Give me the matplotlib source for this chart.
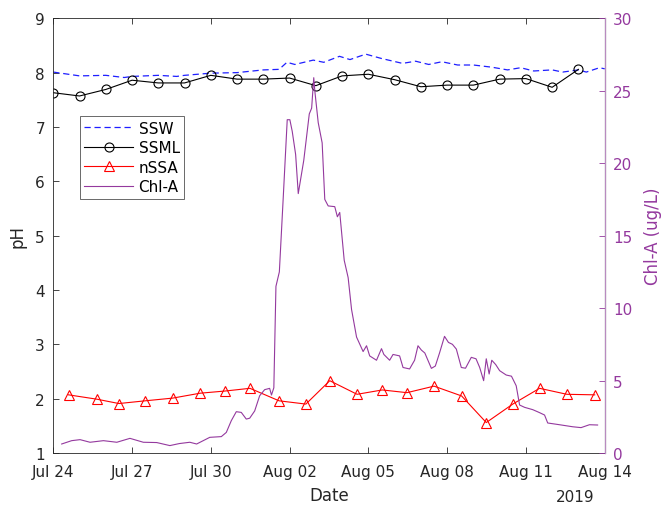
import numpy as np
import pandas as pd
import matplotlib
matplotlib.use("Agg")
import matplotlib.pyplot as plt
import matplotlib.dates as mdates

start = pd.Timestamp("2019-07-24")

# SSML (daily, circles)
ssml_day = np.arange(0, 21)
ssml_ph = [7.63, 7.57, 7.69, 7.86, 7.81, 7.81, 7.95, 7.88, 7.88, 7.90, 7.76,
           7.94, 7.97, 7.87, 7.74, 7.77, 7.77, 7.88, 7.89, 7.73, 8.06]

# nSSA (triangles)
nssa_day = [0.58, 1.66, 2.50, 3.50, 4.55, 5.59, 6.54, 7.49, 8.60, 9.62, 10.53,
            11.57, 12.53, 13.47, 14.50, 15.55, 16.49, 17.50, 18.52, 19.56, 20.62]
nssa_ph = [2.07, 1.99, 1.91, 1.96, 2.01, 2.10, 2.14, 2.19, 1.96, 1.90, 2.33,
           2.08, 2.16, 2.11, 2.23, 2.05, 1.56, 1.90, 2.19, 2.08, 2.07]

# SSW (dashed)
ssw_day = [0.0, 1.0, 2.0, 2.7, 3.0, 4.0, 4.7, 5.0, 6.0, 7.0, 8.0, 8.6, 8.9, 9.2,
           9.9, 10.3, 10.9, 11.3, 11.9, 12.5, 13.3, 13.8, 14.3, 14.8, 15.4, 16.0,
           16.7, 17.3, 17.8, 18.3, 19.0, 19.4, 20.0, 20.3, 20.8, 21.0]
ssw_ph = [8.01, 7.94, 7.95, 7.91, 7.93, 7.95, 7.93, 7.95, 7.99, 8.00, 8.05, 8.06,
          8.19, 8.15, 8.23, 8.19, 8.30, 8.24, 8.34, 8.26, 8.17, 8.21, 8.15, 8.20,
          8.14, 8.14, 8.10, 8.05, 8.09, 8.03, 8.05, 8.01, 8.05, 8.01, 8.09, 8.07]

# Chl-A (ug/L, right axis)
chl_day = [0.32, 0.70, 1.02, 1.40, 1.91, 2.42, 2.92, 3.43, 3.94, 4.44, 4.80, 5.20,
           5.46, 5.96, 6.40, 6.59, 6.78, 6.97, 7.16, 7.35, 7.48, 7.67, 7.86, 8.05,
           8.24, 8.31, 8.40, 8.48, 8.61, 8.76, 8.91, 9.01, 9.10, 9.23, 9.33, 9.54,
           9.75, 9.84, 9.92, 9.96, 10.09, 10.24, 10.34, 10.47, 10.72, 10.82, 10.91,
           11.08, 11.23, 11.36, 11.55, 11.80, 11.93, 12.05, 12.31, 12.50, 12.59,
           12.81, 12.94, 13.19, 13.32, 13.57, 13.76, 13.89, 14.02, 14.15, 14.40,
           14.55, 14.71, 14.90, 15.05, 15.20, 15.35, 15.54, 15.70, 15.92, 16.10,
           16.24, 16.39, 16.49, 16.60, 16.70, 16.85, 17.00, 17.25, 17.45, 17.63,
           17.76, 17.95, 18.26, 18.50, 18.71, 18.83, 19.28, 19.78, 20.10, 20.42,
           20.73]
chl_val = [0.62, 0.85, 0.92, 0.74, 0.85, 0.74, 1.01, 0.74, 0.72, 0.51, 0.65, 0.74,
           0.62, 1.08, 1.13, 1.42, 2.23, 2.85, 2.80, 2.34, 2.40, 2.90, 3.95, 4.37,
           4.46, 4.00, 4.50, 11.5, 12.5, 17.7, 23.0, 23.0, 22.2, 20.6, 17.9, 20.2,
           23.4, 23.8, 25.9, 25.0, 22.8, 21.4, 17.5, 17.05, 17.0, 16.3, 16.6,
           13.3, 12.1, 9.9, 8.0, 7.0, 7.4, 6.7, 6.4, 7.2, 6.8,
           6.4, 6.8, 6.7, 5.9, 5.8, 6.4, 7.4, 7.1, 6.9, 5.84,
           6.0, 6.9, 8.05, 7.63, 7.5, 7.17, 5.9, 5.85, 6.6, 6.5,
           5.9, 4.99, 6.5, 5.45, 6.4, 6.1, 5.68, 5.38, 5.3, 4.64,
           3.31, 3.15, 2.99, 2.8, 2.62, 2.07, 1.95, 1.81, 1.75, 1.95,
           1.93]

tick_days = np.arange(0, 22, 3)

purple = "#94399e"
axis_gray = "#262626"


def to_dates(days):
    return start + pd.to_timedelta(np.asarray(days, dtype=float), unit="D")


plt.rcParams["font.family"] = ["DejaVu Sans"]

fig = plt.figure(figsize=(6.61, 5.06), dpi=100)
ax = fig.add_axes([0.0806, 0.1028, 0.8342, 0.8591])

l_ssw, = ax.plot(to_dates(ssw_day), ssw_ph, color="#1f1fff", lw=0.9,
                 dashes=(5, 3), label="SSW")
l_ssml, = ax.plot(to_dates(ssml_day), ssml_ph, color="black", lw=0.8,
                  marker="o", markersize=6.5, markerfacecolor="none",
                  markeredgewidth=0.8, label="SSML")
l_nssa, = ax.plot(to_dates(nssa_day), nssa_ph, color="red", lw=0.8,
                  marker="^", markersize=7, markerfacecolor="none",
                  markeredgewidth=0.8, label="nSSA")

ax.set_ylim(1, 9)
ax.set_xlim(start, start + pd.Timedelta(days=21))
ax.set_yticks(np.arange(1, 10))
ax.set_xticks(to_dates(tick_days))
ax.xaxis.set_major_formatter(mdates.DateFormatter("%b %d"))
ax.tick_params(direction="in", length=4, width=0.6, top=True, right=False,
               labelsize=11, colors=axis_gray)
ax.tick_params(axis="x", pad=8)
ax.tick_params(axis="y", pad=6)
for side in ["left", "bottom", "top"]:
    ax.spines[side].set_color(axis_gray)
    ax.spines[side].set_linewidth(0.6)
ax.set_ylabel("pH", fontsize=12, color=axis_gray, labelpad=6)
ax.set_xlabel("Date", fontsize=12, color=axis_gray, labelpad=5)
ax.text(0.946, -0.099, "2019", transform=ax.transAxes, ha="center",
        va="center", fontsize=11, color=axis_gray)

ax2 = ax.twinx()
l_chl, = ax2.plot(to_dates(chl_day), chl_val, color=purple, lw=0.8,
                  label="Chl-A")
ax2.set_ylim(0, 30)
ax2.set_yticks(np.arange(0, 31, 5))
ax2.tick_params(direction="in", length=4, width=0.6, labelsize=11,
                colors=purple, pad=6)
ax2.spines["right"].set_color("#b98bc0")
ax2.spines["right"].set_linewidth(0.8)
for side in ["left", "bottom", "top"]:
    ax2.spines[side].set_visible(False)
ax2.set_ylabel("Chl-A (ug/L)", fontsize=12, color=purple, labelpad=8)

leg = ax2.legend(handles=[l_ssw, l_ssml, l_nssa, l_chl], loc="upper left",
                 bbox_to_anchor=(0.048, 0.775), fontsize=11,
                 frameon=True, fancybox=False, edgecolor=axis_gray,
                 handlelength=3.2, handletextpad=0.35, borderpad=0.3,
                 labelspacing=0.3, borderaxespad=0)
leg.get_frame().set_linewidth(0.6)

fig.savefig("out.png", dpi=100)
